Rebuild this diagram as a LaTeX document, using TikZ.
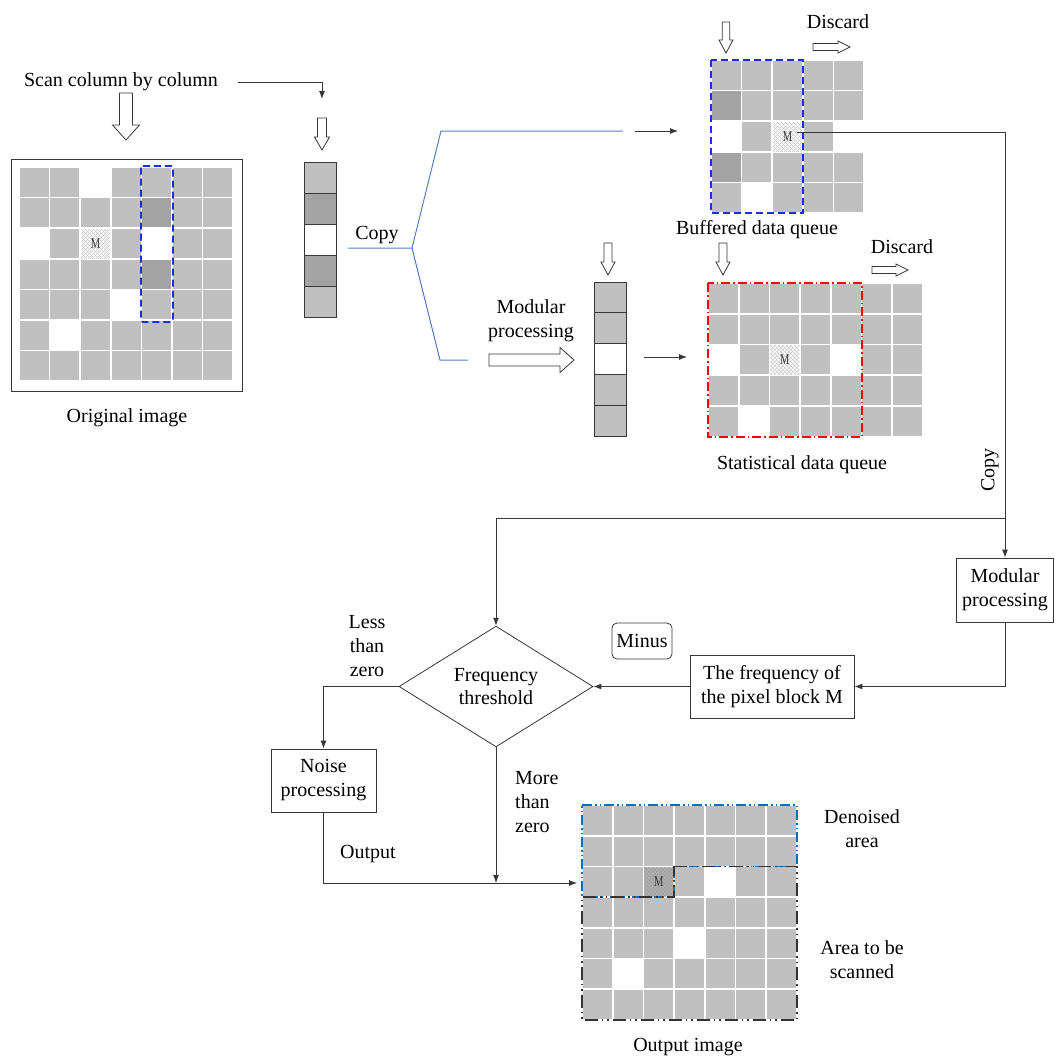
\documentclass[tikz,border=0pt]{standalone}
\usepackage{fontspec}
\setmainfont{Liberation Serif}
\usetikzlibrary{arrows.meta,shapes.geometric}

\definecolor{pxG}{RGB}{192,192,192}
\definecolor{pxD}{RGB}{163,163,163}
\definecolor{pxW}{RGB}{255,255,255}
\definecolor{pxM}{RGB}{255,255,255}
\definecolor{pxN}{RGB}{178,178,178}
\definecolor{copyblue}{RGB}{84,130,190}
\definecolor{qblue}{RGB}{25,45,235}
\definecolor{oblue}{RGB}{0,112,192}
\definecolor{linegray}{RGB}{55,55,55}

% pixel grid: x0, y0, pitch, list of rows
\newcommand\pxgrid[4]{%
  \foreach \rowlist [count=\r from 0] in {#4} {
    \foreach \c [count=\k from 0] in \rowlist {
      \fill[px\c] ({#1+\k*#3+0.8},{#2+\r*#3+0.8}) rectangle ({#1+(\k+1)*#3-0.8},{#2+(\r+1)*#3-0.8});
    }
  }%
}
% cross-hatched cell: x, y, pitch, hatch colour
\newcommand\hatchcell[4]{%
  \begin{scope}
    \clip ({#1+0.8},{#2+0.8}) rectangle ({#1+#3-0.8},{#2+#3-0.8});
    \foreach \i in {-32,-28,...,32} {
      \draw[#4, line width=0.45] ({#1+\i},{#2}) -- ++(#3,#3);
      \draw[#4, line width=0.45] ({#1+\i},{#2+#3}) -- ++(#3,-#3);
    }
  \end{scope}%
}
% hollow block arrows: position, extent, shaft half-width, head half-width, head length
\newcommand\hollowdown[6]{%
  \draw[linegray, line width=0.8, fill=white]
    ({#1-#4},#2) -- ({#1+#4},#2) -- ({#1+#4},{#3-#6}) -- ({#1+#5},{#3-#6}) -- (#1,#3)
    -- ({#1-#5},{#3-#6}) -- ({#1-#4},{#3-#6}) -- cycle;}
\newcommand\hollowright[6]{%
  \draw[linegray, line width=0.8, fill=white]
    (#1,{#3-#4}) -- (#1,{#3+#4}) -- ({#2-#6},{#3+#4}) -- ({#2-#6},{#3+#5}) -- (#2,#3)
    -- ({#2-#6},{#3-#5}) -- ({#2-#6},{#3-#4}) -- cycle;}

\tikzset{
  txt/.style={font=\fontsize{20}{24}\selectfont, inner sep=0pt, align=center, text=black},
  mtxt/.style={font=\fontsize{15}{15}\selectfont, inner sep=0pt, text=black!80},
  box/.style={draw=linegray, line width=0.8, fill=white, font=\fontsize{20}{24}\selectfont,
    align=center, inner sep=0pt},
  conn/.style={linegray, line width=0.9, -{Latex[length=8pt,width=6pt]}},
  plain/.style={linegray, line width=0.9},
  copyline/.style={copyblue, line width=1},
}

\begin{document}
\begin{tikzpicture}[x=1pt,y=-1pt]
\useasboundingbox (0,0) rectangle (1056,1061);

% ---------- original image ----------
\node[txt] (scan) at (121,82) {Scan column by column};
\hollowdown{126}{93}{140}{6.5}{13.5}{15}
\draw[linegray, line width=0.9] (11,159) rectangle (242,391);
\pxgrid{19}{167}{30.6}{{G,G,W,G,G,G,G},{G,G,G,G,D,G,G},{W,G,M,G,W,G,G},{G,G,G,G,D,G,G},{G,G,G,W,G,G,G},{G,W,G,G,G,G,G},{G,G,G,G,G,G,G}}
\hatchcell{80.2}{228.2}{30.6}{gray!40}
\node[mtxt] (morig) at (95.5,243.5) {\scalebox{0.7}[1]{M}};
\draw[qblue, line width=1.6, dash pattern=on 7pt off 4pt, rounded corners=1.5] (141,166) rectangle (173,322);
\node[txt] (origlabel) at (127,418) {Original image};

% ---------- scanned column ----------
\coordinate (scanend) at (238,82);
\coordinate (striptop) at (322,99);
\draw[conn] (scanend) -| (striptop);
\hollowdown{322}{118}{150}{4.5}{7.5}{13}
\foreach \c [count=\k from 0] in {G,D,W,D,G}
  \draw[fill=px\c, draw=linegray, line width=1] (304,{162+\k*31}) rectangle ++(32,31);

% ---------- copy branches ----------
\node[txt] (copy1) at (377,235) {Copy};
\coordinate (cstart) at (348,248);
\coordinate (cfork) at (412,248);
\coordinate (cup) at (441,131);
\coordinate (cupend) at (623,131);
\coordinate (cdown) at (440,360);
\coordinate (cdownend) at (468,360);
\draw[copyline] (cstart) -- (cfork) -- (cup) -- (cupend);
\draw[copyline] (cfork) -- (cdown) -- (cdownend);

% ---------- buffered data queue ----------
\coordinate (bufin1) at (635,131);
\coordinate (bufin2) at (678,131);
\draw[conn] (bufin1) -- (bufin2);
\hollowdown{726}{22}{53}{3.8}{7}{13}
\node[txt] (discard1) at (838,22) {Discard};
\hollowright{813}{850}{47}{3.5}{6}{12}
\pxgrid{711}{60}{30.6}{{G,G,G,G,G},{D,G,G,G,G},{W,G,M,G,W},{D,G,G,G,G},{G,W,G,G,G}}
\hatchcell{772.2}{121.2}{30.6}{gray!40}
\node[mtxt] (mbuf) at (787.5,136.5) {\scalebox{0.7}[1]{M}};
\draw[qblue, line width=1.6, dash pattern=on 7pt off 4pt] (711,60) rectangle (803,213);
\node[txt] (buflabel) at (757,230) {Buffered data queue};

% ---------- statistical data queue ----------
\node[txt] (modtxt) at (531,321) {Modular\\processing};
\hollowright{489}{574}{360}{6}{12.5}{14}
\hollowdown{608}{243}{275}{4}{7}{13}
\foreach \c [count=\k from 0] in {G,G,W,G,G}
  \draw[fill=px\c, draw=linegray, line width=1] (594,{282+\k*30.8}) rectangle ++(32,30.8);
\coordinate (statin1) at (644,357);
\coordinate (statin2) at (687,357);
\draw[conn] (statin1) -- (statin2);
\hollowdown{723}{243}{275}{4}{7}{13}
\node[txt] (discard2) at (902,247) {Discard};
\hollowright{872}{908}{270}{3.5}{6}{12}
\pxgrid{708}{283}{30.7}{{G,G,G,G,G,G,G},{G,G,G,G,G,G,G},{W,G,M,G,W,G,G},{G,G,G,G,G,G,G},{G,W,G,G,G,G,G}}
\hatchcell{769.4}{344.4}{30.7}{gray!40}
\node[mtxt] (mstat) at (784.7,359.7) {\scalebox{0.7}[1]{M}};
\draw[red, line width=1.6, dash pattern=on 9pt off 3pt on 1.5pt off 3pt] (708,283) rectangle (862,437);
\node[txt] (statlabel) at (802,465) {Statistical data queue};

% ---------- flow chart ----------
\node[box, minimum width=97, minimum height=64] (modbox) at (1005,590) {Modular\\processing};
\node[box, minimum width=164, minimum height=63] (freq) at (772,686.5) {The frequency of\\the pixel block M};
\node[box, rounded corners=5, minimum width=60, minimum height=36] (minus) at (642,641) {Minus};
\node[draw=linegray, line width=0.8, fill=white, shape=diamond, minimum width=194, minimum height=116,
  inner sep=0pt, font=\fontsize{20}{23}\selectfont, align=center] (thresh) at (496,686.5) {Frequency\\threshold};
\node[box, minimum width=105, minimum height=63] (noise) at (323.5,780.5) {Noise\\processing};

\coordinate (mtap) at (797,132);
\draw[conn] (mtap) -| (modbox.north);
\node[txt, rotate=90] (copy2) at (990,470) {Copy};
\coordinate (split) at (1005,518);
\draw[conn] (split) -| (thresh.north);
\draw[conn] (modbox.south) |- (freq.east);
\draw[conn] (freq.west) -- (thresh.east);
\draw[conn] (thresh.west) -| (noise.north);

\node[txt] (less) at (367,646) {Less\\than\\zero};
\node[txt, align=left, anchor=west] (more) at (515,802) {More\\than\\zero};
\node[txt, anchor=west] (outlbl) at (340,854) {Output};

\coordinate (outin) at (577,883);
\draw[conn] (noise.south) |- (outin);
\draw[conn] (thresh.south) -- (thresh.south |- outin);

% ---------- output image ----------
\pxgrid{582}{805}{30.7}{{G,G,G,G,G,G,G},{G,G,G,G,G,G,G},{G,G,N,G,W,G,G},{G,G,G,G,G,G,G},{G,G,G,W,G,G,G},{G,W,G,G,G,G,G},{G,G,G,G,G,G,G}}
\hatchcell{643.4}{866.4}{30.7}{gray!75}
\node[mtxt] (mout) at (658.7,881.7) {\scalebox{0.7}[1]{M}};
\draw[oblue, line width=1.6, dash pattern=on 10pt off 3pt on 1.5pt off 3pt on 1.5pt off 3pt]
  (582,805) -- (797,805) -- (797,866.4) -- (674,866.4) -- (674,897) -- (582,897) -- cycle;
\draw[black!80, line width=1.6, dash pattern=on 13pt off 4pt on 1.5pt off 4pt on 1.5pt off 4pt]
  (674,866.4) -- (797,866.4) -- (797,1020) -- (582,1020) -- (582,897) -- (674,897) -- cycle;
\node[txt] (denoised) at (862,828.5) {Denoised\\area};
\node[txt] (toscan) at (862,960) {Area to be\\scanned};
\node[txt] (outlabel) at (688,1047) {Output image};
\end{tikzpicture}
\end{document}
